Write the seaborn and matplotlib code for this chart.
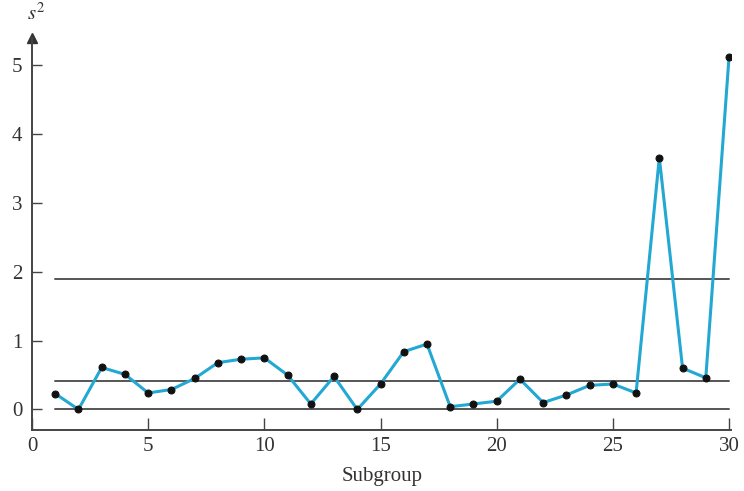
import matplotlib
matplotlib.use("Agg")
import matplotlib.pyplot as plt
import seaborn as sns
import pandas as pd

# Subgroup sample variances
subgroups = list(range(1, 31))
variances = [0.23, 0.00, 0.61, 0.51, 0.24, 0.29, 0.45, 0.68, 0.73, 0.75,
             0.50, 0.08, 0.48, 0.00, 0.37, 0.84, 0.95, 0.04, 0.08, 0.12,
             0.44, 0.10, 0.21, 0.35, 0.37, 0.24, 3.66, 0.60, 0.46, 5.12]

# Control limits
ucl = 1.89
center = 0.41
lcl = 0.0

x_ticks = [0, 5, 10, 15, 20, 25, 30]
y_ticks = [0, 1, 2, 3, 4, 5]

sns.set_style("ticks")
plt.rcParams["font.family"] = ["Liberation Serif", "DejaVu Serif"]
plt.rcParams["mathtext.fontset"] = "stix"

df = pd.DataFrame({"Subgroup": subgroups, "s2": variances})

fig = plt.figure(figsize=(7.44, 4.91), dpi=100)
ax = fig.add_axes([0.043, 0.124, 0.940, 0.799])

limit_color = "#555555"
for level in (ucl, center, lcl):
    ax.plot([subgroups[0], subgroups[-1]], [level, level], color=limit_color,
            lw=1.4, zorder=1)

sns.lineplot(data=df, x="Subgroup", y="s2", ax=ax, color="#22A8D2", lw=2.2,
             marker="o", markersize=5, markerfacecolor="#111111",
             markeredgecolor="#111111", zorder=3)

ax.set_xlim(0, 30.1)
ax.set_ylim(-0.3, 5.4)
ax.set_xticks(x_ticks)
ax.set_yticks(y_ticks)
ax.set_xticklabels([str(t) for t in x_ticks])
ax.set_yticklabels([str(t) for t in y_ticks])

for side in ("top", "right"):
    ax.spines[side].set_visible(False)
for side in ("left", "bottom"):
    ax.spines[side].set_color("#444444")
    ax.spines[side].set_linewidth(1.4)

ax.tick_params(axis="y", direction="in", length=7, width=1, colors="#444444",
               labelsize=15, labelcolor="#333333", pad=7)
ax.tick_params(axis="x", direction="in", length=9, width=1, colors="#444444",
               labelsize=15, labelcolor="#333333", pad=5)

# Arrowhead on the vertical axis
ax.plot(0, 1.0, marker="^", color="#333333", markersize=7,
        transform=ax.transAxes, clip_on=False)

ax.set_xlabel("Subgroup", fontsize=15, color="#333333", labelpad=8)
ax.set_ylabel("")
fig.text(0.036, 0.950, r"$s^2$", fontsize=15, color="#333333",
         ha="left", va="bottom")

fig.savefig("out.png", dpi=100, facecolor="white")
